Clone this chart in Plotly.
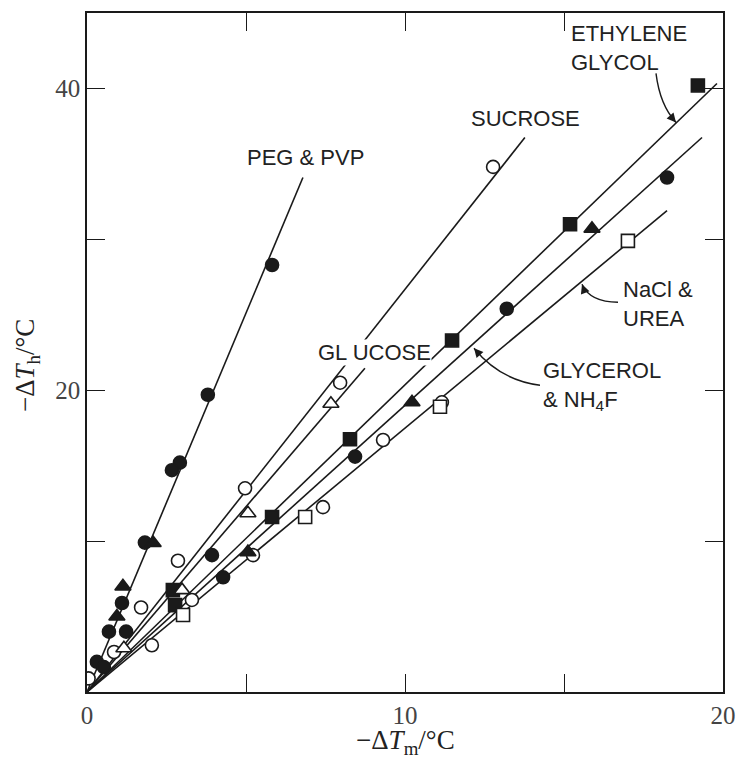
import plotly.graph_objects as go

# ---------------- data ----------------
# fitted lines, all starting at the origin: end points
line_names = ["PEG & PVP", "SUCROSE", "GLUCOSE", "ETHYLENE GLYCOL", "GLYCEROL & NH4F", "NaCl & UREA"]
line_x_end = [6.79, 13.77, 8.74, 19.81, 19.34, 18.24]
line_y_end = [34.1, 36.75, 21.46, 40.33, 36.75, 31.9]

# filled circles
fc_x = [5.82, 3.80, 2.92, 2.67, 1.82, 1.10, 0.69, 1.23, 0.31, 0.53, 3.93, 4.28, 8.43, 13.2, 18.24]
fc_y = [28.3, 19.7, 15.2, 14.7, 9.9, 5.9, 4.0, 4.0, 2.0, 1.65, 9.07, 7.6, 15.6, 25.4, 34.1]

# open circles
oc_x = [12.77, 7.96, 4.97, 2.86, 3.30, 1.70, 0.85, 2.04, 0.05, 11.16, 9.31, 7.42, 5.22]
oc_y = [34.8, 20.5, 13.5, 8.7, 6.1, 5.6, 2.65, 3.1, 0.9, 19.2, 16.7, 12.25, 9.07]

# filled squares
fs_x = [19.21, 15.19, 11.48, 8.27, 5.82, 2.70, 2.77]
fs_y = [40.2, 31.0, 23.3, 16.75, 11.6, 6.75, 5.76]

# open squares
os_x = [17.01, 11.10, 6.86, 3.02]
os_y = [29.9, 18.9, 11.6, 5.1]

# filled triangles
ft_x = [15.88, 10.22, 5.06, 2.08, 1.13, 0.94]
ft_y = [30.7, 19.2, 9.27, 9.87, 7.0, 5.0]

# open triangles
ot_x = [7.67, 5.06, 2.99, 1.16]
ot_y = [19.1, 11.85, 6.75, 2.9]

x_ticks = [0, 10, 20]
x_minor_ticks = [5, 15]
y_ticks = [20, 40]
y_minor_ticks = [10, 30]

# ---------------- figure ----------------
INK = "#1a1a1a"
SERIF = "Liberation Serif, DejaVu Serif, serif"
fig = go.Figure()

for nm, xe, ye in zip(line_names, line_x_end, line_y_end):
    fig.add_trace(go.Scatter(x=[0, xe], y=[0, ye], mode="lines", name=nm,
                             line=dict(color=INK, width=1.6), showlegend=False,
                             hoverinfo="skip"))

def pts(xs, ys, symbol, size, filled):
    fig.add_trace(go.Scatter(
        x=xs, y=ys, mode="markers", showlegend=False,
        marker=dict(symbol=symbol, size=size,
                    color=INK if filled else "white",
                    line=dict(color=INK, width=1.6))))

pts(fc_x, fc_y, "circle", 13, True)
pts(oc_x, oc_y, "circle", 13, False)
pts(fs_x, fs_y, "square", 13, True)
pts(os_x, os_y, "square", 13, False)
pts(ft_x, ft_y, "triangle-up", 14, True)
pts(ot_x, ot_y, "triangle-up", 14, False)

LAB = dict(family="Liberation Sans, Arial, sans-serif", size=22, color="#222")

def label(text, x, y, xanchor="left", bg=None):
    fig.add_annotation(x=x, y=y, xref="x", yref="y", text=text, showarrow=False,
                       xanchor=xanchor, yanchor="middle", align="left", font=LAB,
                       bgcolor=bg if bg else "rgba(0,0,0,0)", borderpad=0)

label("PEG &amp; PVP", 6.86, 35.4, xanchor="center")
label("SUCROSE", 13.8, 38.0, xanchor="center")
label("GL UCOSE", 7.23, 22.5, bg="white")
label("ETHYLENE<br>GLYCOL", 15.19, 42.68)
label("NaCl &amp;<br>UREA", 16.82, 25.7)
label("GLYCEROL<br>&amp; NH<sub>4</sub>F", 14.3, 20.26)

# curved leader lines
def px2d(px, py):
    return (px - 87) / 31.8, (692 - py) / 15.1

def curve(p0, c, p1):
    a, b, d = px2d(*p0), px2d(*c), px2d(*p1)
    fig.add_shape(type="path", xref="x", yref="y",
                  path=f"M {a[0]},{a[1]} Q {b[0]},{b[1]} {d[0]},{d[1]}",
                  line=dict(color=INK, width=1.4))

def head(p, ax, ay):
    d = px2d(*p)
    fig.add_annotation(x=d[0], y=d[1], xref="x", yref="y", text=" ", showarrow=True,
                       ax=ax, ay=ay, arrowhead=2, arrowsize=1.3, arrowwidth=1.4,
                       arrowcolor=INK, standoff=0, font=dict(size=1))

curve((656, 73), (660, 105), (676, 122))
head((676, 122), -6, -7)
curve((618, 302), (590, 302), (582, 284))
head((582, 284), 3, 8)
curve((540, 385), (500, 380), (474, 348))
head((474, 348), 7, 8)

TICKF = dict(family=SERIF, size=25, color="#444")
MINOR = dict(ticks="inside", ticklen=18, tickwidth=1.4, tickcolor=INK, showgrid=False)

fig.update_xaxes(range=[0, 20], tickvals=x_ticks,
                 minor=dict(tickvals=x_minor_ticks, **MINOR),
                 ticks="inside", ticklen=18, tickwidth=1.4, tickcolor=INK,
                 showline=True, linecolor=INK, linewidth=1.6, mirror="ticks",
                 showgrid=False, zeroline=False, tickfont=TICKF, automargin=False)
fig.update_yaxes(range=[0, 45], tickvals=y_ticks,
                 minor=dict(tickvals=y_minor_ticks, **MINOR),
                 ticks="inside", ticklen=18, tickwidth=1.4, tickcolor=INK,
                 showline=True, linecolor=INK, linewidth=1.6, mirror="ticks",
                 showgrid=False, zeroline=False, tickfont=TICKF, automargin=False)

TITLEF = dict(family=SERIF, size=27, color="#222")
fig.add_annotation(text="\u2212\u0394<i>T</i><sub>m</sub>/\u00b0C", xref="paper", yref="paper",
                   x=0.5, y=0, yshift=-50, xanchor="center", yanchor="middle",
                   showarrow=False, font=TITLEF)
fig.add_annotation(text="\u2212\u0394<i>T</i><sub>h</sub>/\u00b0C", xref="paper", yref="paper",
                   x=0, xshift=-60, y=0.48, xanchor="center", yanchor="middle",
                   textangle=-90, showarrow=False, font=TITLEF)

fig.update_layout(width=738, height=760, margin=dict(l=87, r=15, t=13, b=68),
                  paper_bgcolor="white", plot_bgcolor="white")

fig.write_html("out.html", config={"displayModeBar": False},
               post_script="document.body.style.margin='0';document.body.style.overflow='hidden';")
